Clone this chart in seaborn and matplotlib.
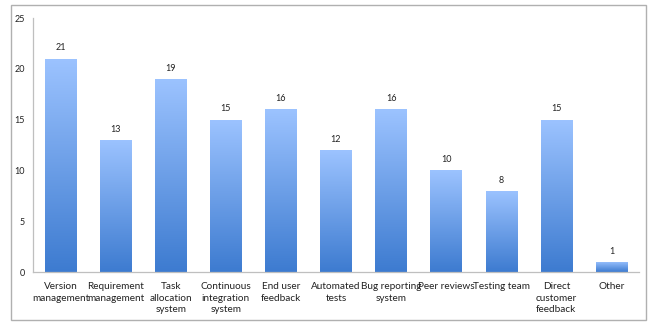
import numpy as np
import pandas as pd
import matplotlib
matplotlib.use("Agg")
import matplotlib.pyplot as plt
import seaborn as sns
from matplotlib.colors import LinearSegmentedColormap
from matplotlib.patches import Rectangle

categories = [
    "Version\nmanagement", "Requirement\nmanagement", "Task\nallocation\nsystem",
    "Continuous\nintegration\nsystem", "End user\nfeedback", "Automated\ntests",
    "Bug reporting\nsystem", "Peer reviews", "Testing team",
    "Direct\ncustomer\nfeedback", "Other",
]
counts = [21, 13, 19, 15, 16, 12, 16, 10, 8, 15, 1]
y_ticks = [0, 5, 10, 15, 20, 25]

sns.set_style("white")
plt.rcParams["font.family"] = ["Lato", "DejaVu Sans"]

df = pd.DataFrame({"tool": categories, "count": counts})

fig = plt.figure(figsize=(6.52, 3.22), dpi=100)
ax = fig.add_axes([0.0506, 0.155, 0.9294, 0.789])

sns.barplot(data=df, x="tool", y="count", ax=ax, width=0.57,
            color="#6a9ee6", linewidth=0, saturation=1)

# vertical gradient inside each bar: light at the top, deeper blue at the base
grad = LinearSegmentedColormap.from_list("bar", ["#3d7bd0", "#9cc3ff"])
gimg = np.linspace(0, 1, 256).reshape(-1, 1)
for patch in list(ax.patches):
    x0, y0 = patch.get_x(), patch.get_y()
    w, h = patch.get_width(), patch.get_height()
    patch.set_facecolor("none")
    im = ax.imshow(gimg, cmap=grad, origin="lower", aspect="auto",
                   extent=[x0, x0 + w, y0, y0 + h], zorder=2,
                   interpolation="bicubic")
    im.set_clip_path(patch)

for i, v in enumerate(counts):
    ax.annotate(str(v), (i, v), xytext=(0, 4.5), textcoords="offset points",
                ha="center", va="bottom", fontsize=6.5, color="#222222")

ax.set_xlim(-0.5, len(categories) - 0.5)
ax.set_ylim(0, 25)
ax.set_yticks(y_ticks)
ax.set_yticklabels([str(t) for t in y_ticks], fontsize=6.5, color="#222222")
ax.tick_params(axis="x", labelsize=7.2, colors="#222222", length=0, pad=7)
ax.tick_params(axis="y", length=0, pad=6)
for lbl in ax.get_xticklabels():
    lbl.set_linespacing(1.4)
ax.set_xlabel("")
ax.set_ylabel("")

for side in ["top", "right"]:
    ax.spines[side].set_visible(False)
for side in ["left", "bottom"]:
    ax.spines[side].set_color("#bfbfbf")
    ax.spines[side].set_linewidth(0.9)

# chart-area border
fig.patches.append(Rectangle((11 / 652, 2 / 322), 635 / 652, 315 / 322,
                             transform=fig.transFigure, fill=False,
                             edgecolor="#b0b0b0", linewidth=1.0))

fig.savefig("out.png", dpi=100)
